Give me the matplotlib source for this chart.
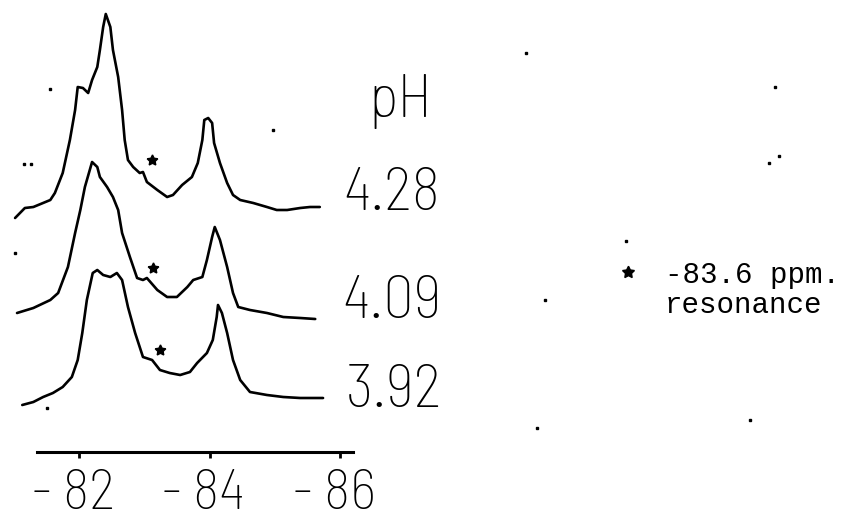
import matplotlib
matplotlib.use("Agg")
import matplotlib.pyplot as plt
from matplotlib.transforms import ScaledTranslation

# --- 31P spectra at three pH values (chemical shift in ppm, intensity in arbitrary units) ---
ph_labels = ["4.28", "4.09", "3.92"]
baselines = [300, 200, 112]

shift_428 = [-81.02, -81.17, -81.30, -81.56, -81.63, -81.75, -81.86, -81.94, -81.98, -82.06,
             -82.14, -82.20, -82.28, -82.32, -82.37, -82.41, -82.48, -82.52, -82.60, -82.66,
             -82.70, -82.75, -82.83, -82.93, -82.98, -83.04, -83.20, -83.35, -83.44, -83.58,
             -83.73, -83.82, -83.89, -83.92, -83.98, -84.04, -84.07, -84.16, -84.27, -84.36,
             -84.47, -84.67, -84.88, -85.03, -85.19, -85.39, -85.54, -85.69]
inten_428 = [2, 12, 13, 20, 27, 47, 80, 110, 133, 132,
             127, 140, 153, 170, 193, 206, 193, 170, 143, 110,
             80, 60, 53, 47, 48, 38, 30, 23, 25, 35,
             43, 57, 80, 100, 102, 97, 77, 57, 37, 25,
             20, 17, 13, 10, 10, 12, 13, 13]

shift_409 = [-81.05, -81.30, -81.56, -81.68, -81.83, -81.94, -82.02, -82.09, -82.20, -82.28,
             -82.32, -82.43, -82.52, -82.60, -82.66, -82.78, -82.89, -82.98, -83.04, -83.20,
             -83.35, -83.50, -83.66, -83.75, -83.89, -83.96, -84.04, -84.08, -84.16, -84.27,
             -84.36, -84.44, -84.62, -84.88, -85.13, -85.39, -85.62]
inten_409 = [7, 12, 20, 27, 53, 87, 110, 133, 158, 153,
             143, 133, 123, 110, 87, 63, 42, 40, 42, 30,
             23, 23, 33, 40, 43, 60, 83, 93, 80, 53,
             27, 13, 10, 7, 3, 2, 1]

shift_392 = [-81.13, -81.30, -81.45, -81.60, -81.75, -81.89, -81.98, -82.05, -82.12, -82.21,
             -82.28, -82.37, -82.48, -82.58, -82.66, -82.75, -82.86, -82.98, -83.12, -83.24,
             -83.39, -83.55, -83.70, -83.81, -83.96, -84.05, -84.11, -84.13, -84.19, -84.27,
             -84.36, -84.47, -84.62, -84.88, -85.13, -85.39, -85.74]
inten_392 = [3, 6, 11, 15, 21, 31, 48, 75, 108, 135,
             138, 133, 131, 135, 128, 101, 75, 51, 48, 38,
             35, 33, 36, 45, 55, 68, 91, 103, 95, 75,
             48, 28, 16, 13, 11, 10, 10]

# asterisks marking the -83.6 ppm resonance on each trace
star_shift = [-83.12, -83.13, -83.24]
star_height = [60, 52, 58]

# axis ticks
tick_values = [-82, -84, -86]
tick_labels = ["- 82", "- 84", "- 86"]

# stray specks on the sheet (shift, height)
speck_shift = [-81.56, -81.15, -81.26, -84.97, -88.85, -92.67, -92.73, -92.57,
               -90.38, -89.14, -89.02, -92.28, -81.51, -81.02]
speck_height = [431, 356, 356, 390, 467, 433, 364, 357,
                279, 220, 92, 100, 112, 267]

shifts = [shift_428, shift_409, shift_392]
intens = [inten_428, inten_409, inten_392]

fig = plt.figure(figsize=(8.42, 5.20), dpi=100)
ax = fig.add_axes([0, 0, 1, 1])
ax.set_xlim(-80.789, -93.693)
ax.set_ylim(0, 520)

for xs, ys, base in zip(shifts, intens, baselines):
    ax.plot(xs, [base + v for v in ys], color="black", lw=1.9,
            solid_joinstyle="round", solid_capstyle="round")

ax.plot(star_shift, [b + h for b, h in zip(baselines, star_height)], ls="none",
        marker=(5, 1, 0), ms=8, color="black")

ax.plot(speck_shift, speck_height, ls="none", marker="s", ms=1.8, color="black")

# shift scale
for side in ("top", "left", "right"):
    ax.spines[side].set_visible(False)
ax.spines["bottom"].set_position(("data", 68))
ax.spines["bottom"].set_bounds(-81.36, -86.20)
ax.spines["bottom"].set_linewidth(2.2)
ax.set_yticks([])
ax.set_xticks(tick_values)
ax.set_xticklabels(tick_labels)
ax.tick_params(axis="x", direction="out", length=4, width=2, pad=8,
               labelsize=41)
for lab in ax.get_xticklabels():
    lab.set_fontfamily("Barlow Semi Condensed")
    lab.set_fontweight(250)
    lab.set_transform(lab.get_transform() + ScaledTranslation(-6 / 100, 0, fig.dpi_scale_trans))

# pH annotations
label_font = dict(family="Barlow Semi Condensed", weight=250, size=44, color="black")
ax.text(-86.93, 403, "pH", ha="center", va="baseline", **label_font)
for lbl, base, x in zip(ph_labels, [310, 202, 113], [-86.80, -86.80, -86.83]):
    ax.text(x, base, lbl, ha="center", va="baseline", **label_font)

# key
ax.plot([-90.41], [248], ls="none", marker=(5, 1, 0), ms=9, color="black")
mono = dict(family="Liberation Mono", size=21, color="black")
ax.text(-90.98, 237, "-83.6 ppm.", ha="left", va="baseline", **mono)
ax.text(-90.98, 207, "resonance", ha="left", va="baseline", **mono)

fig.savefig("out.png", dpi=100, facecolor="white")
